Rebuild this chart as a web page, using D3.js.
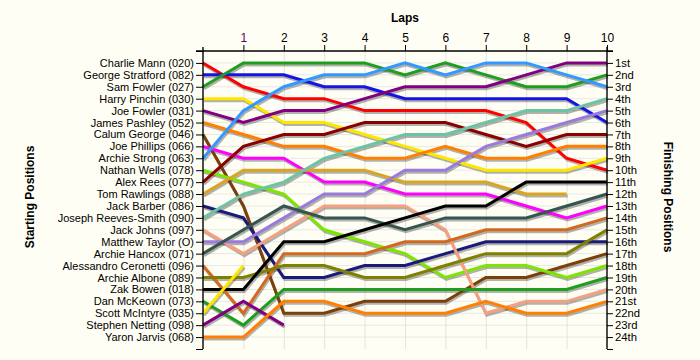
<!DOCTYPE html>
<html>
<head>
<meta charset="utf-8">
<script src="https://cdn.jsdelivr.net/npm/d3@7"></script>
<style>
  html, body { margin: 0; padding: 0; background: #FFFEF4; }
  svg { display: block; font-family: "Liberation Sans", Arial, sans-serif; }
</style>
</head>
<body>
<svg id="chart" width="700" height="360"></svg>
<script>
// ---------- data ----------
const laps = [0, 1, 2, 3, 4, 5, 6, 7, 8, 9, 10];
const lapTickLabels = ["1", "2", "3", "4", "5", "6", "7", "8", "9", "10"];

const drivers = [
  "Charlie Mann (020)", "George Stratford (082)", "Sam Fowler (027)", "Harry Pinchin (030)",
  "Joe Fowler (031)", "James Pashley (052)", "Calum George (046)", "Joe Phillips (066)",
  "Archie Strong (063)", "Nathan Wells (078)", "Alex Rees (077)", "Tom Rawlings (088)",
  "Jack Barber (086)", "Joseph Reeves-Smith (090)", "Jack Johns (097)", "Matthew Taylor (O)",
  "Archie Hancox (071)", "Alessandro Ceronetti (096)", "Archie Albone (089)", "Zak Bowen (018)",
  "Dan McKeown (073)", "Scott McIntyre (035)", "Stephen Netting (098)", "Yaron Jarvis (068)"
];

const finishLabels = [
  "1st", "2nd", "3rd", "4th", "5th", "6th", "7th", "8th", "9th", "10th", "11th", "12th",
  "13th", "14th", "15th", "16th", "17th", "18th", "19th", "20th", "21st", "22nd", "23rd", "24th"
];

// position of each driver at the end of each lap (lap 0 = grid)
const posCharlieMann        = [1, 3, 4, 4, 5, 5, 5, 5, 6, 9, 10];
const posGeorgeStratford    = [2, 2, 2, 3, 3, 4, 4, 4, 4, 4, 6];
const posSamFowler          = [3, 1, 1, 1, 1, 2, 1, 2, 3, 3, 2];
const posHarryPinchin       = [4, 4, 6, 6, 7, 8, 9, 10, 10, 10, 9];
const posJoeFowler          = [5, 6, 5, 5, 4, 3, 3, 3, 2, 1, 1];
const posJamesPashley       = [6, 7, 8, 8, 9, 9, 8, 9, 9, 8, 8];
const posCalumGeorge        = [7, 13, 22, 22, 21, 21, 21, 19, 19, 18, 17];
const posJoePhillips        = [8, 9, 9, 11, 11, 12, 12, 12, 13, 14, 13];
const posArchieStrong       = [9, 5, 3, 2, 2, 1, 2, 1, 1, 2, 3];
const posNathanWells        = [10, 11, 12, 15, 16, 17, 19, 18, 18, 19, 18];
const posAlexRees           = [11, 8, 7, 7, 6, 6, 6, 7, 8, 7, 7];
const posTomRawlings        = [12, 10, 10, 10, 10, 11, 11, 11, 12, 12];
const posJackBarber         = [13, 14, 19, 19, 18, 18, 17, 16, 16, 16, 16];
const posJosephReevesSmith  = [14, 12, 11, 9, 8, 7, 7, 6, 5, 5, 4];
const posJackJohns          = [15, 17, 15, 13, 13, 13, 15, 22, 21, 21, 20];
const posMatthewTaylor      = [16, 16, 14, 12, 12, 10, 10, 8, 7, 6, 5];
const posArchieHancox       = [17, 15, 13, 14, 14, 15, 14, 14, 14, 13, 12];
const posAlessandroCeronetti= [18, 22, 17, 17, 17, 16, 16, 15, 15, 15, 14];
const posArchieAlbone       = [19, 19, 18, 18, 19, 19, 18, 17, 17, 17, 15];
const posZakBowen           = [20, 20, 16, 16, 15, 14, 13, 13, 11, 11, 11];
const posDanMcKeown         = [21, 23, 20, 20, 20, 20, 20, 20, 20, 20, 19];
const posScottMcIntyre      = [22, 18];
const posStephenNetting     = [23, 21, 23];
const posYaronJarvis        = [24, 24, 21, 21, 22, 22, 22, 21, 22, 22, 21];

const positions = [
  posCharlieMann, posGeorgeStratford, posSamFowler, posHarryPinchin, posJoeFowler,
  posJamesPashley, posCalumGeorge, posJoePhillips, posArchieStrong, posNathanWells,
  posAlexRees, posTomRawlings, posJackBarber, posJosephReevesSmith, posJackJohns,
  posMatthewTaylor, posArchieHancox, posAlessandroCeronetti, posArchieAlbone, posZakBowen,
  posDanMcKeown, posScottMcIntyre, posStephenNetting, posYaronJarvis
];

// ---------- style ----------
const palette = [
  "#FF0000", "#1414E6", "#1E9E1E", "#FFE600", "#800080", "#FF8000", "#7B3F0A", "#FF00FF",
  "#3399FF", "#7CE600", "#8B0000", "#DAA520", "#1A1A7A", "#6CC4A4", "#F5A080", "#9A7ADC",
  "#355550", "#D2691E", "#808000", "#000000", "#1E9E1E", "#FFE600", "#800080", "#FF8000"
];

const svg = d3.select("#chart");
const x = d3.scaleLinear().domain([0, 10]).range([203, 607]);
const y = d3.scaleLinear().domain([0, 25]).range([51, 349]);
const posTicks = d3.range(1, 25);

// grid
const grid = svg.append("g");
grid.selectAll("line.h").data(posTicks).enter().append("line")
  .attr("x1", x(0)).attr("x2", x(10))
  .attr("y1", d => y(d)).attr("y2", d => y(d))
  .attr("stroke", "#E8E8E4").attr("stroke-width", 1);
grid.selectAll("line.v").data(laps.slice(1, 10)).enter().append("line")
  .attr("x1", d => x(d) + 0.5).attr("x2", d => x(d) + 0.5)
  .attr("y1", y(0) - 4).attr("y2", y(25))
  .attr("stroke", "#E4E4E0").attr("stroke-width", 1);

// lines
const line = d3.line()
  .x((d, i) => x(laps[i]))
  .y(d => y(d));

const lines = svg.append("g");
positions.forEach((p, i) => {
  lines.append("path")
    .attr("d", line(p))
    .attr("fill", "none")
    .attr("stroke", "#000")
    .attr("stroke-opacity", 0.3)
    .attr("stroke-width", 3)
    .attr("transform", "translate(1,2)");
});
positions.forEach((p, i) => {
  lines.append("path")
    .attr("d", line(p))
    .attr("fill", "none")
    .attr("stroke", palette[i])
    .attr("stroke-width", 3)
    .attr("stroke-linejoin", "miter");
});

// left axis
const leftAxis = d3.axisLeft(y)
  .tickValues(d3.range(0, 26))
  .tickSize(7)
  .tickSizeOuter(0)
  .tickFormat(d => (d >= 1 && d <= 24) ? drivers[d - 1] : "");
const gl = svg.append("g").attr("transform", `translate(${x(0)},0)`).call(leftAxis);

// right axis
const rightAxis = d3.axisRight(y)
  .tickValues(d3.range(0, 26))
  .tickSize(6)
  .tickSizeOuter(0)
  .tickFormat(d => (d >= 1 && d <= 24) ? finishLabels[d - 1] : "");
const gr = svg.append("g").attr("transform", `translate(${x(10)},0)`).call(rightAxis);

// top axis
const topAxis = d3.axisTop(x)
  .tickValues(laps.slice(1))
  .tickSize(6)
  .tickSizeOuter(0)
  .tickFormat((d, i) => lapTickLabels[i]);
const gt = svg.append("g").attr("transform", `translate(0,${y(0)})`).call(topAxis);

[gl, gr, gt].forEach(g => {
  g.select(".domain").attr("stroke", "#000").attr("stroke-width", 1.4);
  g.selectAll(".tick line").attr("stroke", "#000");
  g.selectAll(".tick text").attr("fill", "#000")
    .style("font-family", "'Liberation Sans', Arial, sans-serif");
});
gl.selectAll(".tick text").style("font-size", "11px").attr("x", -9);
gr.selectAll(".tick text").style("font-size", "11.3px").attr("x", 8);
gt.selectAll(".tick text").style("font-size", "12px").attr("y", -9);
gt.selectAll(".tick text").filter(d => d === 1).attr("fill", "#5A005A");
// extend domain lines slightly
gt.select(".domain").attr("d", `M${x(0) - 7},0H${x(10) + 6}`);
gl.select(".domain").attr("d", `M0,${y(0) - 4}V${y(25)}`);
gr.select(".domain").attr("d", `M0,${y(0) - 4}V${y(25)}`);

// titles
svg.append("text").attr("x", 405).attr("y", 22)
  .attr("text-anchor", "middle").style("font-weight", "bold").style("font-size", "12px")
  .text("Laps");
svg.append("text")
  .attr("transform", `translate(34,197) rotate(-90)`)
  .attr("text-anchor", "middle").style("font-weight", "bold").style("font-size", "12px")
  .text("Starting Positions");
svg.append("text")
  .attr("transform", `translate(664,197) rotate(90)`)
  .attr("text-anchor", "middle").style("font-weight", "bold").style("font-size", "12px")
  .text("Finishing Positions");
</script>
</body>
</html>
